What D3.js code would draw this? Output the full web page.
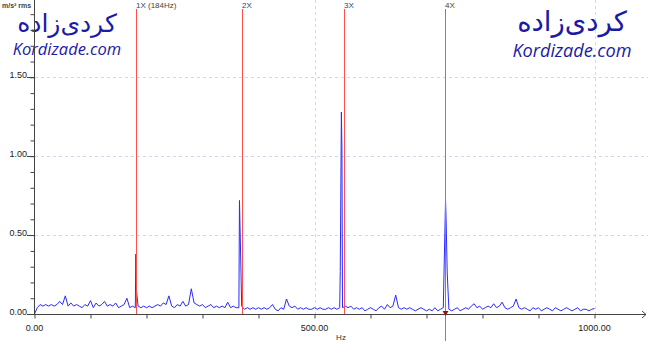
<!DOCTYPE html>
<html>
<head>
<meta charset="utf-8">
<script src="https://cdn.jsdelivr.net/npm/d3@7"></script>
<style>
  body { margin: 0; background: #fff; }
  svg { display: block; font-family: "Liberation Sans", Arial, sans-serif; }
</style>
</head>
<body>
<svg id="chart" width="648" height="341"></svg>
<script>
// spectre mesuré, pas de 5 Hz (0 -> 1000 Hz), en m/s² rms
const stepHz = 5;
const noiseFloor = [
  0.00,0.04,0.06,0.05,0.06,0.05,0.06,0.05,0.06,0.08,0.06,0.115,0.05,0.07,0.05,0.06,0.05,0.04,0.06,0.05,
  0.085,0.04,0.07,0.05,0.06,0.08,0.05,0.06,0.05,0.07,0.04,0.05,0.06,0.10,0.04,0.05,0.04,0.05,0.04,0.05,
  0.04,0.05,0.04,0.05,0.06,0.05,0.07,0.06,0.115,0.05,0.04,0.06,0.05,0.08,0.05,0.06,0.16,0.07,0.06,0.05,
  0.06,0.04,0.05,0.06,0.04,0.05,0.04,0.05,0.04,0.075,0.04,0.05,0.04,0.04,0.05,0.03,0.04,0.03,0.04,0.03,
  0.04,0.03,0.04,0.03,0.04,0.06,0.03,0.02,0.04,0.03,0.095,0.05,0.04,0.05,0.03,0.04,0.03,0.04,0.03,0.03,
  0.04,0.03,0.04,0.03,0.03,0.04,0.03,0.04,0.03,0.04,0.04,0.05,0.04,0.05,0.03,0.04,0.03,0.04,0.02,0.03,
  0.04,0.03,0.02,0.04,0.05,0.03,0.06,0.04,0.05,0.12,0.04,0.03,0.04,0.03,0.04,0.03,0.02,0.03,0.04,0.03,
  0.02,0.03,0.02,0.04,0.02,0.03,0.04,0.03,0.03,0.02,0.03,0.04,0.02,0.03,0.04,0.03,0.05,0.065,0.04,0.05,
  0.03,0.04,0.05,0.04,0.065,0.04,0.05,0.075,0.04,0.03,0.04,0.05,0.095,0.04,0.03,0.04,0.03,0.02,0.04,0.03,
  0.04,0.02,0.03,0.04,0.03,0.02,0.04,0.03,0.02,0.03,0.04,0.03,0.02,0.03,0.04,0.02,0.03,0.03,0.02,0.03,
  0.035
];
// pics aux harmoniques [Hz, amplitude]
const peakPoints = [
  [181, 0.38], [182, 0.15],
  [366, 0.72], [367, 0.56],
  [546, 0.27], [548, 1.28], [549, 1.04],
  [734, 0.72], [735, 0.60], [737, 0.26]
];
// curseurs harmoniques
const harmonicHz = [181, 370, 552, 733];
const harmonicLabels = ["1X (184Hz)", "2X", "3X", "4X"];
const yTicks = d3.range(0, 20).map(i => i / 10);
const yLabelTicks = [0, 0.5, 1.0, 1.5];
const xTicks = d3.range(0, 11).map(i => i * 100);
const xLabelTicks = [0, 500, 1000];
const gridY = [0.5, 1.0, 1.5];
const gridX = [500, 1000];

const svg = d3.select("#chart");
const x = d3.scaleLinear().domain([0, 1000]).range([34.5, 594.5]);
const y = d3.scaleLinear().domain([0, 1.99]).range([314, 0]);

// grille pointillée
svg.append("g").selectAll("line").data(gridY).join("line")
  .attr("x1", 35).attr("x2", 648)
  .attr("y1", d => Math.round(y(d)) + 0.5).attr("y2", d => Math.round(y(d)) + 0.5)
  .attr("stroke", "#d4d4f4").attr("stroke-dasharray", "3,3");
svg.append("g").selectAll("line").data(gridX).join("line")
  .attr("x1", d => Math.round(x(d)) + 0.5).attr("x2", d => Math.round(x(d)) + 0.5)
  .attr("y1", 0).attr("y2", 314)
  .attr("stroke", "#d4d4f4").attr("stroke-dasharray", "3,3");

// filigrane
function watermark(cx, top, k) {
  const g = svg.append("g").attr("fill", "#1a1aa6")
    .attr("transform", `translate(${cx},${top}) scale(${k})`);
  g.append("text").attr("x", 0).attr("y", 22)
    .attr("text-anchor", "middle")
    .style("font-family", "'DejaVu Sans', sans-serif")
    .style("font-size", "25px")
    .style("letter-spacing", "2.5px")
    .text("کردی\u200Cزاده");
  g.append("text").attr("x", 0).attr("y", 45)
    .attr("text-anchor", "middle")
    .style("font-family", "'Open Sans', sans-serif")
    .style("font-style", "italic")
    .style("font-size", "16.5px")
    .text("Kordizade.com");
}
watermark(67, 10, 1);
watermark(572, 7, 1.1);

// spectre
const gridPts = noiseFloor.map((v, i) => [i * stepHz, v])
  .filter(p => !peakPoints.some(q => Math.abs(q[0] - p[0]) < 1));
const spectrum = gridPts.concat(peakPoints).sort((a, b) => a[0] - b[0]);
const line = d3.line().x(d => x(d[0])).y(d => y(d[1]));
svg.append("path").datum(spectrum)
  .attr("d", line)
  .attr("fill", "none")
  .attr("stroke", "#2a2aff")
  .attr("stroke-width", 1);

// axes
const yAxis = d3.axisLeft(y).tickValues(yTicks).tickSize(4)
  .tickFormat(() => "");
const gy = svg.append("g").attr("transform", "translate(34.5,0)").call(yAxis);
gy.select(".domain").remove();
gy.selectAll(".tick line").attr("stroke", "#444");
svg.append("line").attr("x1", 34.5).attr("x2", 34.5).attr("y1", 0).attr("y2", 315)
  .attr("stroke", "#444");
svg.append("g").selectAll("g").data(yLabelTicks).join("g")
  .each(function (d) {
    const g = d3.select(this);
    const ty = Math.round(y(d)) + 0.5;
    g.append("line").attr("x1", 27).attr("x2", 34).attr("y1", ty).attr("y2", ty).attr("stroke", "#444");
    g.append("text").attr("x", 27).attr("y", ty + 0.5)
      .attr("text-anchor", "end")
      .style("font-size", "9px").attr("fill", "#222")
      .text(d3.format(".2f")(d));
  });

const xAxis = d3.axisBottom(x).tickValues(xTicks).tickSize(4).tickFormat(() => "");
const gx = svg.append("g").attr("transform", "translate(0,314.5)").call(xAxis);
gx.select(".domain").remove();
gx.selectAll(".tick line").attr("stroke", "#444");
svg.append("line").attr("x1", 34).attr("x2", 646).attr("y1", 314.5).attr("y2", 314.5)
  .attr("stroke", "#444");
svg.append("path").attr("d", "M642,311 L646,314.5 L642,318")
  .attr("fill", "none").attr("stroke", "#444");
svg.append("g").selectAll("text").data(xLabelTicks).join("text")
  .attr("x", d => x(d)).attr("y", 331)
  .attr("text-anchor", "middle")
  .style("font-size", "9px").attr("fill", "#222")
  .text(d => d3.format(".2f")(d));
svg.append("text").attr("x", 341).attr("y", 339.5)
  .attr("text-anchor", "middle")
  .style("font-size", "8px").attr("fill", "#333")
  .text("Hz");

// unité
svg.append("text").attr("x", 2).attr("y", 8)
  .style("font-size", "7px").style("font-weight", "bold").attr("fill", "#444")
  .text("m/s² rms");

// curseurs harmoniques
const hg = svg.append("g").selectAll("g").data(harmonicHz).join("g");
hg.append("line")
  .attr("x1", d => Math.round(x(d)) + 0.5).attr("x2", d => Math.round(x(d)) + 0.5)
  .attr("y1", 9).attr("y2", (d, i) => i === 3 ? 341 : 314)
  .attr("stroke", "#ff5050").attr("stroke-width", 1);
hg.append("text")
  .attr("x", d => Math.round(x(d)))
  .attr("y", 8)
  .style("font-size", "8px").attr("fill", "#444")
  .text((d, i) => harmonicLabels[i]);
const last = harmonicHz[3];
svg.append("path")
  .attr("d", `M${Math.round(x(last)) - 2.5},311 L${Math.round(x(last)) + 3.5},311 L${Math.round(x(last)) + 0.5},316 Z`)
  .attr("fill", "#a01010");
</script>
</body>
</html>
